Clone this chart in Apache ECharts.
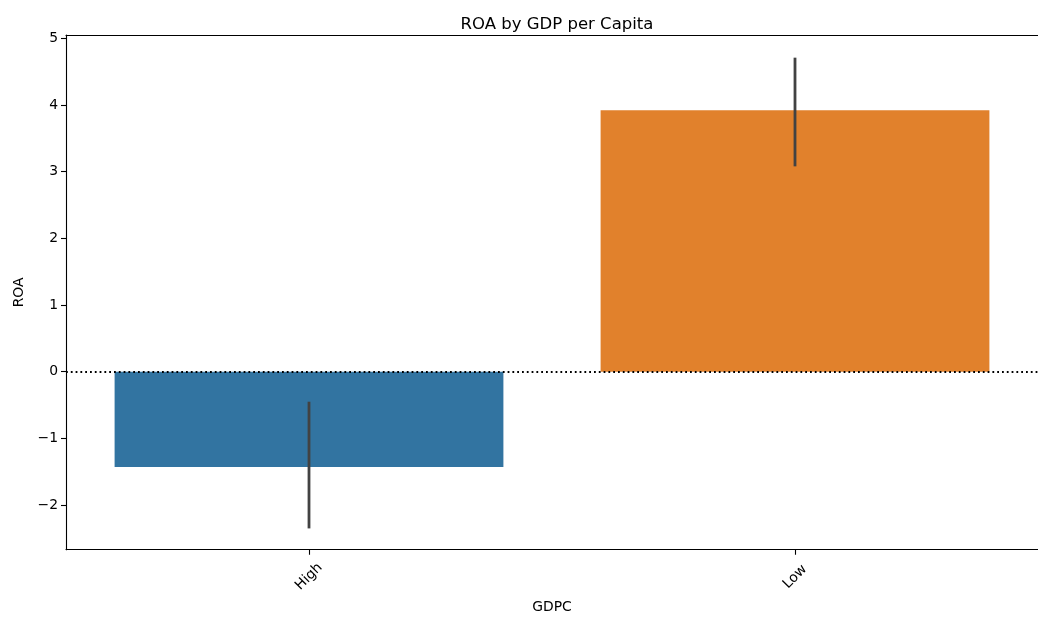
<!DOCTYPE html>
<html>
<head>
<meta charset="utf-8">
<title>ROA by GDP per Capita</title>
<script src="https://cdn.jsdelivr.net/npm/echarts@6/dist/echarts.min.js"></script>
<style>
  html, body { margin: 0; padding: 0; background: #fff; }
  #chart { width: 1038px; height: 619px; }
</style>
</head>
<body>
<div id="chart"></div>
<script>
// Mean ROA per GDP-per-capita group, with 95% confidence intervals
const categories = ['High', 'Low'];
const roaMean = [-1.43, 3.92];
const ciLow = [-2.35, 3.08];
const ciHigh = [-0.45, 4.71];
const yTicks = [-2, -1, 0, 1, 2, 3, 4, 5];
const barColors = ['#3274a1', '#e1812c'];

const FONT = 'DejaVu Sans';
const minus = v => String(v).replace('-', '\u2212');

const chart = echarts.init(document.getElementById('chart'), null, { renderer: 'canvas' });

chart.setOption({
  animation: false,
  backgroundColor: '#ffffff',
  title: {
    text: 'ROA by GDP per Capita',
    left: 552,
    textAlign: 'center',
    top: 11,
    textStyle: { fontFamily: FONT, fontSize: 16.5, fontWeight: 'normal', color: '#000' }
  },
  grid: { left: 66, right: 0, top: 35, bottom: 67, containLabel: false },
  xAxis: [{
    type: 'category',
    data: categories,
    position: 'bottom',
    name: 'GDPC',
    nameLocation: 'middle',
    nameGap: 49,
    nameTextStyle: { fontFamily: FONT, fontSize: 13.9, color: '#000' },
    axisLine: { show: true, onZero: false, lineStyle: { color: '#000', width: 1.1 } },
    axisTick: { show: true, alignWithLabel: true, length: 5, lineStyle: { color: '#000', width: 1.1 } },
    axisLabel: {
      rotate: 45,
      align: 'center',
      verticalAlign: 'middle',
      margin: 27,
      fontFamily: FONT,
      fontSize: 13.9,
      color: '#000'
    },
    splitLine: { show: false }
  }, {
    // top spine
    type: 'category',
    data: categories,
    position: 'top',
    axisLine: { show: true, onZero: false, lineStyle: { color: '#000', width: 1.1 } },
    axisTick: { show: false },
    axisLabel: { show: false },
    splitLine: { show: false }
  }],
  yAxis: {
    type: 'value',
    min: -2.67,
    max: 5.05,
    name: 'ROA',
    nameLocation: 'middle',
    nameGap: 38,
    nameRotate: 90,
    nameTextStyle: { fontFamily: FONT, fontSize: 13.9, color: '#000' },
    axisLine: { show: true, onZero: false, lineStyle: { color: '#000', width: 1.1 } },
    axisTick: { show: true, length: 5, customValues: yTicks, lineStyle: { color: '#000', width: 1.1 } },
    axisLabel: {
      customValues: yTicks,
      margin: 8,
      fontFamily: FONT,
      fontSize: 13.9,
      color: '#000',
      formatter: v => minus(v)
    },
    splitLine: { show: false }
  },
  series: [{
    type: 'bar',
    data: roaMean.map((v, i) => ({ value: v, itemStyle: { color: barColors[i] } })),
    barWidth: '80%',
    z: 2,
    markLine: {
      silent: true,
      symbol: ['none', 'none'],
      label: { show: false },
      lineStyle: { color: '#000', type: [1.8, 3], width: 1.8 },
      data: [{ yAxis: 0 }],
      z: 3
    }
  }, {
    // confidence-interval whiskers
    type: 'custom',
    z: 5,
    data: categories.map((c, i) => [i, ciLow[i], ciHigh[i]]),
    renderItem: (params, api) => {
      const a = api.coord([api.value(0), api.value(1)]);
      const b = api.coord([api.value(0), api.value(2)]);
      return {
        type: 'line',
        shape: { x1: a[0], y1: a[1], x2: b[0], y2: b[1] },
        style: { stroke: '#424242', lineWidth: 2.8, lineCap: 'butt' }
      };
    }
  }]
});
</script>
</body>
</html>
